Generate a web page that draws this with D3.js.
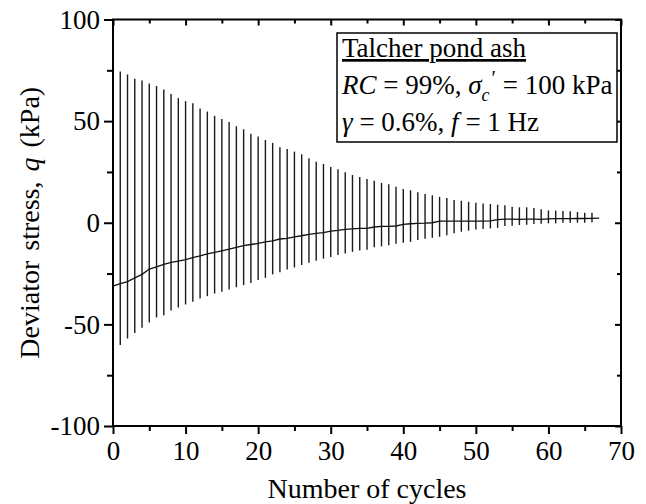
<!DOCTYPE html>
<html>
<head>
<meta charset="utf-8">
<script src="https://cdn.jsdelivr.net/npm/d3@7"></script>
<style>
  html, body { margin: 0; padding: 0; background: #fff; }
  svg { display: block; }
  text { font-family: "Liberation Serif", "Times New Roman", serif; fill: #000; }
</style>
</head>
<body>
<svg id="chart" width="646" height="504"></svg>
<script>
// Cycle numbers with the peak / trough deviator stress reached in each cycle (kPa)
const cycles = [1,2,3,4,5,6,7,8,9,10,11,12,13,14,15,16,17,18,19,20,21,22,23,24,25,26,27,28,29,30,
  31,32,33,34,35,36,37,38,39,40,41,42,43,44,45,46,47,48,49,50,51,52,53,54,55,56,57,58,59,60,
  61,62,63,64,65,66];
const qMax = [74.4,72.9,70.9,70.0,68.5,67.3,65.5,63.4,61.3,59.8,58.8,56.2,54.7,52.6,51.1,49.6,47.5,46.0,43.8,42.4,
  40.7,39.3,37.1,36.3,35.0,33.7,31.7,30.0,28.9,27.4,26.3,24.8,23.5,22.5,21.5,20.7,19.6,18.9,17.7,16.6,
  16.0,15.0,14.1,13.5,12.7,12.2,11.2,10.8,10.3,9.9,9.5,9.2,8.9,8.6,7.9,7.6,7.6,7.2,6.6,6.1,
  6.0,5.8,5.6,5.3,4.9,4.9];
const qMin = [-60.2,-57.0,-54.2,-51.7,-49.1,-46.6,-45.5,-43.2,-41.7,-40.2,-38.9,-37.3,-36.1,-34.8,-34.0,-32.8,-31.7,-30.7,-29.6,-28.2,
  -27.1,-25.4,-24.4,-23.0,-22.0,-20.8,-19.7,-18.7,-17.7,-16.9,-15.9,-15.1,-14.3,-13.6,-13.3,-12.1,-11.6,-11.1,-10.3,-9.9,
  -9.4,-8.5,-7.9,-7.4,-6.9,-6.1,-5.2,-4.4,-3.9,-3.3,-3.1,-2.8,-2.5,-1.6,-1.5,-1.1,-1.0,-0.6,-0.5,-0.3,
  -0.3,0.0,0.0,0.0,0.0,0.3];

// Mean (centre) stress trace across the test
const meanCycles = [0,1,2,3,4,5,6,7,8,9,10,11,12,13,14,15,16,17,18,19,20,21,22,23,24,25,26,27,28,29,30,
  31,32,33,34,35,36,37,38,39,40,41,42,43,44,45,46,47,48,49,50,51,52,53,54,55,56,57,58,59,60,
  61,62,63,64,65,66,67];
const qMean = [-31.2,-29.9,-29.0,-27.1,-25.4,-22.8,-21.7,-20.5,-19.5,-18.9,-18.1,-17.2,-16.3,-15.3,-14.6,-13.8,-13.0,-12.1,-11.3,-10.7,
  -10.2,-9.4,-8.9,-8.0,-7.7,-7.0,-6.4,-5.7,-5.2,-4.9,-4.1,-3.8,-3.3,-3.0,-2.8,-2.8,-2.1,-1.8,-1.8,-1.6,
  -0.8,-0.5,-0.3,-0.2,0.0,0.8,0.8,0.8,0.8,0.8,0.8,0.8,0.9,1.5,1.8,1.8,1.7,1.8,1.8,1.7,
  1.9,2.0,2.0,2.0,2.1,2.1,2.2,2.3];

// Axis ticks
const xMajorTicks = [0,10,20,30,40,50,60,70];
const xMinorTicks = [5,15,25,35,45,55,65];
const yMajorTicks = [-100,-50,0,50,100];
const yMinorTicks = [-75,-25,25,75];

const svg = d3.select("#chart");
const plotLeft = 113, plotRight = 621, plotTop = 19.5, plotBottom = 426;

const x = d3.scaleLinear().domain([0, 70]).range([plotLeft, plotRight]);
const y = d3.scaleLinear().domain([-100, 100]).range([plotBottom, plotTop]);

// Cycle ranges
svg.append("g")
  .selectAll("line")
  .data(cycles)
  .join("line")
  .attr("x1", (d) => x(d)).attr("x2", (d) => x(d))
  .attr("y1", (d, i) => y(qMax[i]))
  .attr("y2", (d, i) => y(qMin[i]))
  .attr("stroke", "#1a1a1a")
  .attr("stroke-width", 1.4);

// Mean trace
svg.append("path")
  .datum(meanCycles.map((c, i) => [c, qMean[i]]))
  .attr("fill", "none")
  .attr("stroke", "#111")
  .attr("stroke-width", 1.3)
  .attr("d", d3.line().x((d) => x(d[0])).y((d) => y(d[1])));

// Axes
const fontSize = 27;
function styleAxis(g) {
  g.selectAll(".domain").remove();
  g.selectAll(".tick line").attr("stroke", "#000").attr("stroke-width", 2);
  g.selectAll(".tick text")
    .style("font-family", '"Liberation Serif", "Times New Roman", serif')
    .style("font-size", fontSize + "px")
    .attr("fill", "#000");
}

const fmt = (d) => (d < 0 ? "-" + Math.abs(d) : String(d));

// bottom
svg.append("g").attr("transform", `translate(0,${plotBottom})`)
  .call(d3.axisBottom(x).tickValues(xMajorTicks).tickSize(8).tickPadding(7).tickFormat(fmt))
  .call(styleAxis);
svg.append("g").attr("transform", `translate(0,${plotBottom})`)
  .call(d3.axisBottom(x).tickValues(xMinorTicks).tickSize(5).tickFormat(""))
  .call(styleAxis);
// top (inward)
svg.append("g").attr("transform", `translate(0,${plotTop})`)
  .call(d3.axisBottom(x).tickValues(xMajorTicks).tickSize(6).tickFormat(""))
  .call(styleAxis);
svg.append("g").attr("transform", `translate(0,${plotTop})`)
  .call(d3.axisBottom(x).tickValues(xMinorTicks).tickSize(4).tickFormat(""))
  .call(styleAxis);
// left
svg.append("g").attr("transform", `translate(${plotLeft},0)`)
  .call(d3.axisLeft(y).tickValues(yMajorTicks).tickSize(9).tickPadding(4).tickFormat(fmt))
  .call(styleAxis);
svg.append("g").attr("transform", `translate(${plotLeft},0)`)
  .call(d3.axisLeft(y).tickValues(yMinorTicks).tickSize(6).tickFormat(""))
  .call(styleAxis);
// right (inward)
svg.append("g").attr("transform", `translate(${plotRight},0)`)
  .call(d3.axisLeft(y).tickValues(yMajorTicks).tickSize(6).tickFormat(""))
  .call(styleAxis);
svg.append("g").attr("transform", `translate(${plotRight},0)`)
  .call(d3.axisLeft(y).tickValues(yMinorTicks).tickSize(4).tickFormat(""))
  .call(styleAxis);

// Frame
svg.append("rect")
  .attr("x", plotLeft).attr("y", plotTop)
  .attr("width", plotRight - plotLeft).attr("height", plotBottom - plotTop)
  .attr("fill", "none").attr("stroke", "#000").attr("stroke-width", 2);

// Axis titles
svg.append("text")
  .attr("x", (plotLeft + plotRight) / 2).attr("y", 498)
  .attr("text-anchor", "middle")
  .style("font-size", "28px")
  .text("Number of cycles");

const yTitle = svg.append("text")
  .attr("transform", `translate(39,${(plotTop + plotBottom) / 2}) rotate(-90)`)
  .attr("text-anchor", "middle")
  .style("font-size", "28px")
  .style("word-spacing", "3px");
yTitle.append("tspan").text("Deviator stress, ");
yTitle.append("tspan").style("font-style", "italic").text("q");
yTitle.append("tspan").text(" (kPa)");

// Test-condition box
const box = svg.append("g");
box.append("rect")
  .attr("x", 337).attr("y", 33).attr("width", 280).attr("height", 109)
  .attr("fill", "#fff").attr("stroke", "#000").attr("stroke-width", 1.5);

const bx = 342, bs = 27;
box.append("text").attr("x", bx).attr("y", 57).style("font-size", bs + "px")
  .style("text-decoration", "underline").text("Talcher pond ash");

const t2 = box.append("text").attr("x", bx).attr("y", 94).style("font-size", bs + "px");
t2.append("tspan").style("font-style", "italic").text("RC");
t2.append("tspan").text(" = 99%, ");
t2.append("tspan").style("font-style", "italic").text("σ");
t2.append("tspan").style("font-style", "italic").style("font-size", "18px").attr("dy", 7).text("c");
t2.append("tspan").style("font-size", "20px").attr("dx", 2).attr("dy", -16).text("′");
t2.append("tspan").attr("dy", 9).text(" = 100 kPa");

const t3 = box.append("text").attr("x", bx).attr("y", 131).style("font-size", bs + "px");
t3.append("tspan").style("font-style", "italic").text("γ");
t3.append("tspan").text(" = 0.6%, ");
t3.append("tspan").style("font-style", "italic").text("f");
t3.append("tspan").text(" = 1 Hz");
</script>
</body>
</html>
